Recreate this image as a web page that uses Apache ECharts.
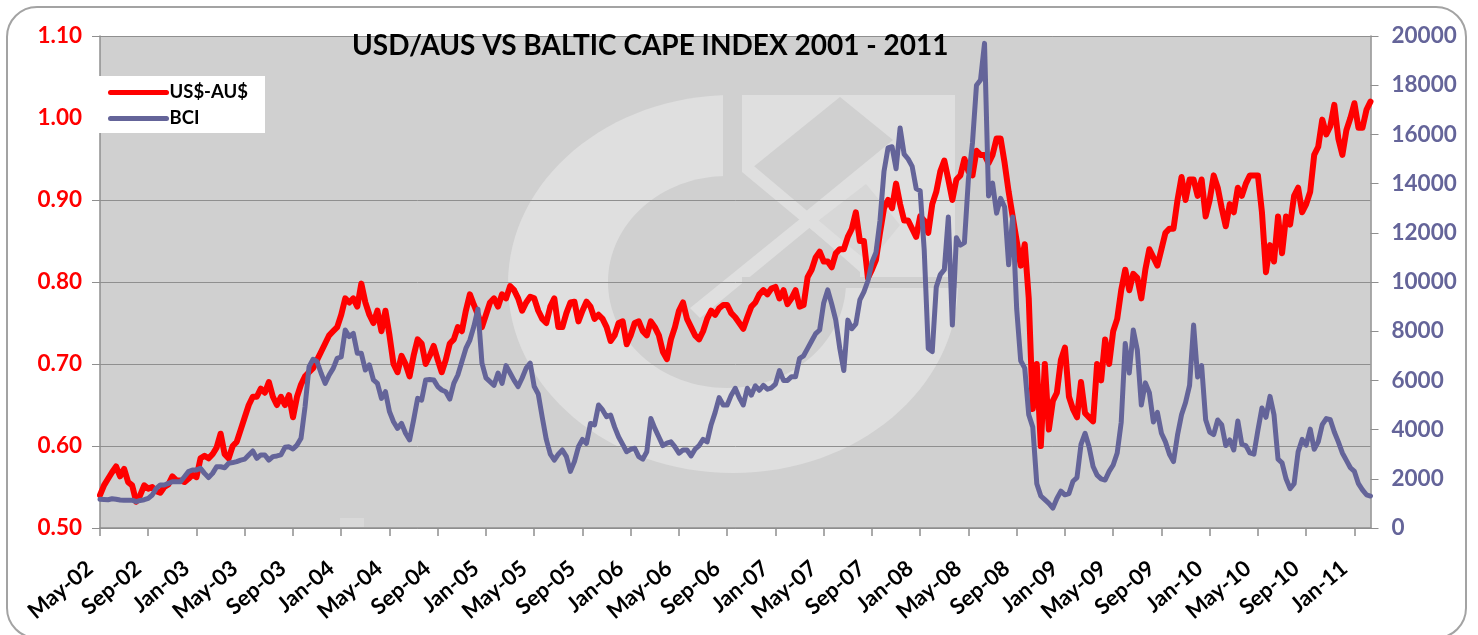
<!DOCTYPE html>
<html>
<head>
<meta charset="utf-8">
<style>html,body{margin:0;padding:0;background:#fff}#c{width:1478px;height:635px}</style>
<script src="https://cdn.jsdelivr.net/npm/echarts@6/dist/echarts.min.js"></script>
</head>
<body>
<div id="c"></div>
<script>
const chartTitle = 'USD/AUS VS BALTIC CAPE INDEX 2001 - 2011';
const tickLabels = ['May-02','Sep-02','Jan-03','May-03','Sep-03','Jan-04','May-04','Sep-04','Jan-05','May-05','Sep-05','Jan-06','May-06','Sep-06','Jan-07','May-07','Sep-07','Jan-08','May-08','Sep-08','Jan-09','May-09','Sep-09','Jan-10','May-10','Sep-10','Jan-11'];
const pointsPerTick = 12;
const usdAud = [
.540,.552,.560,.568,.575,.563,.572,.556,.552,.532,.540,.552,
.548,.550,.545,.543,.550,.553,.563,.558,.558,.556,.560,.565,
.562,.585,.588,.585,.590,.598,.615,.590,.585,.600,.605,.620,
.635,.650,.660,.660,.670,.665,.678,.660,.650,.660,.650,.662,
.635,.660,.675,.685,.690,.695,.705,.715,.725,.735,.740,.745,
.760,.780,.775,.780,.770,.798,.775,.760,.750,.765,.740,.765,
.735,.700,.690,.710,.700,.685,.710,.730,.725,.700,.710,.722,
.705,.690,.705,.725,.730,.745,.740,.765,.785,.772,.760,.745,
.760,.775,.780,.770,.785,.780,.795,.790,.780,.765,.775,.782,
.780,.765,.755,.750,.770,.780,.745,.745,.762,.775,.776,.752,
.765,.776,.770,.755,.760,.755,.745,.728,.735,.750,.752,.724,
.735,.750,.752,.740,.735,.752,.745,.735,.715,.706,.730,.745,
.765,.775,.755,.745,.735,.730,.740,.755,.765,.760,.768,.772,
.772,.762,.757,.750,.743,.757,.770,.775,.785,.790,.785,.792,
.794,.780,.790,.773,.780,.790,.770,.772,.806,.815,.830,.837,
.825,.825,.818,.835,.840,.840,.855,.865,.885,.850,.850,.805,
.815,.827,.860,.890,.900,.890,.920,.895,.875,.875,.865,.855,
.880,.875,.860,.895,.910,.935,.948,.925,.900,.925,.930,.950,
.935,.930,.960,.955,.955,.945,.955,.975,.975,.945,.910,.880,
.850,.820,.846,.780,.645,.700,.600,.700,.620,.655,.665,.705,
.720,.660,.645,.635,.678,.640,.635,.630,.700,.680,.730,.700,
.740,.755,.790,.815,.790,.810,.805,.780,.815,.840,.830,.820,
.840,.860,.865,.865,.900,.928,.900,.925,.925,.905,.925,.880,
.900,.930,.915,.890,.868,.895,.885,.915,.905,.920,.930,.930,
.930,.885,.812,.845,.825,.880,.835,.880,.870,.905,.915,.885,
.895,.910,.955,.965,.998,.980,.990,1.016,.975,.955,.985,1.000,
1.018,.988,.988,1.010,1.020
];
const bci = [
1170,1160,1150,1190,1170,1140,1130,1130,1130,1070,1120,1150,
1206,1340,1610,1750,1750,1815,1880,1880,1880,2085,2290,2360,
2360,2425,2220,2050,2220,2490,2490,2450,2630,2660,2700,2760,
2800,2970,3130,2830,2970,2970,2760,2900,2930,2970,3280,3300,
3210,3370,3650,4930,6560,6860,6760,6290,5880,6220,6490,6900,
6960,8050,7780,7910,7100,7100,6420,6630,6020,5880,5270,5540,
4730,4320,4050,4250,3850,3580,4390,5270,5200,6020,6040,6020,
5750,5610,5540,5240,5880,6220,6760,7300,7640,8200,8900,6700,
6100,5950,5800,6300,5880,6600,6300,6000,5750,6100,6500,6700,
5750,5450,4500,3600,3000,2760,3000,3170,2900,2300,2700,3300,
3600,3440,4250,4190,5000,4800,4525,4590,4100,3700,3400,3100,
3200,3240,2900,2800,3100,4450,4050,3700,3350,3450,3500,3300,
3040,3170,3170,2930,3200,3350,3600,3500,4200,4700,5300,5000,
5000,5400,5680,5300,5000,5680,5400,5780,5600,5800,5640,5700,
5850,6400,6000,6000,6150,6150,6900,7000,7300,7600,7900,8050,
9150,9680,9100,8450,7300,6400,8450,8100,8300,9270,9600,10050,
10800,11200,12500,14500,15450,15500,14600,16260,15200,15000,14700,13800,
13700,11300,7300,7170,9800,10300,10500,12640,8250,11800,11500,11600,
14200,15650,18000,18210,19700,13500,14020,12800,13400,13050,10700,12640,
8900,6800,6500,4600,4100,1800,1300,1150,1000,810,1200,1500,
1350,1400,1900,2050,3400,3850,3300,2500,2150,2000,1950,2300,
2560,3050,4300,7500,6300,8050,7240,5000,5900,5500,4310,4700,
3850,3500,3000,2700,3780,4600,5100,5800,8250,6140,6600,4400,
3900,3800,4390,4190,3350,3580,3170,4350,3400,3350,3050,3000,
3980,4880,4500,5350,4600,2800,2650,2000,1600,1800,3100,3600,
3370,4020,3200,3500,4200,4450,4400,3900,3500,3050,2750,2450,
2300,1800,1550,1350,1300
];
const usdTicks = [0.5,0.6,0.7,0.8,0.9,1.1];
const categories = bci.map((_, i) => i % pointsPerTick === 0 ? tickLabels[i / pointsPerTick] : '');

const RED = '#ff0000', BLUE = '#646499', BG = '#d0d0d0', LIGHT = '#dfdfdf', GREY = '#8f8f8f';
const FONT = 'Lato, "Open Sans", sans-serif';
const chart = echarts.init(document.getElementById('c'), null, {renderer: 'canvas'});
const poly = (points, fill) => ({type: 'polygon', z: -1, silent: true, shape: {points}, style: {fill}});
chart.setOption({
  animation: false,
  backgroundColor: '#fff',
  graphic: {elements: [
    {type: 'rect', z: -5, silent: true, shape: {x: 7, y: 7, width: 1459, height: 631, r: 30}, style: {fill: '#fff', stroke: '#a3a3a3', lineWidth: 2}},
    {type: 'rect', z: -4, silent: true, shape: {x: 100, y: 36, width: 1270.5, height: 492}, style: {fill: BG}},
    {type: 'ellipse', z: -3, silent: true, shape: {cx: 733, cy: 284, rx: 225, ry: 189}, style: {fill: LIGHT}},
    {type: 'ellipse', z: -3, silent: true, shape: {cx: 727, cy: 282, rx: 119, ry: 106}, style: {fill: BG}},
    {type: 'rect', z: -2, silent: true, shape: {x: 723, y: 90, width: 240, height: 198}, style: {fill: BG}},
    {type: 'rect', z: -2, silent: true, shape: {x: 857, y: 288, width: 98, height: 30}, style: {fill: LIGHT}},
    {type: 'rect', z: -2, silent: true, shape: {x: 340, y: 518, width: 24, height: 9}, style: {fill: '#d9d9d9'}},
    poly([[742,95],[955,95],[955,277],[742,277]], LIGHT),
    poly([[840,97],[752,168],[805,212],[893,140]], BG),
    poly([[742,172],[860,270],[860,277],[742,277]], BG),
    poly([[814,224],[866,184],[900,225],[870,262]], '#d7d7d7'),
    poly([[890,146],[898,155],[700,318],[690,308]], LIGHT),
    poly([[742,168],[748,161],[868,262],[860,272]], LIGHT),
    {type: 'rect', z: -1, silent: true, shape: {x: 742, y: 277, width: 213, height: 11}, style: {fill: BG}}
  ]},
  title: {
    text: chartTitle, left: 352, top: 32, padding: 0,
    textStyle: {fontFamily: FONT, fontWeight: 'bold', fontSize: 28, color: '#000'}
  },
  legend: {
    left: 99, top: 76, orient: 'vertical', align: 'left',
    itemWidth: 56, itemHeight: 12, itemGap: 7, padding: [7, 17, 5, 9],
    backgroundColor: '#fff', borderRadius: 0,
    itemStyle: {opacity: 0},
    lineStyle: {width: 5, cap: 'round'},
    textStyle: {fontFamily: FONT, fontWeight: 'bold', fontSize: 18.5, color: '#000', padding: [2, 0, 0, -2]},
    data: ['US$-AU$', 'BCI']
  },
  grid: {left: 100, right: 107.5, top: 36, bottom: 107, containLabel: false},
  xAxis: {
    type: 'category', boundaryGap: false, data: categories,
    axisLine: {lineStyle: {color: GREY, width: 1.5}},
    axisTick: {interval: pointsPerTick - 1, length: 8, lineStyle: {color: GREY, width: 1.5}},
    axisLabel: {interval: pointsPerTick - 1, rotate: 40, margin: 29, padding: [0, 13, 0, 0], fontFamily: FONT, fontWeight: 'bold', fontSize: 22, color: '#000'},
    splitLine: {show: false}
  },
  yAxis: [
    {
      type: 'value', min: 0.5, max: 1.1, interval: 0.1,
      axisLine: {show: true, lineStyle: {color: GREY, width: 1.5}},
      axisTick: {show: true, length: 8, customValues: usdTicks, lineStyle: {color: GREY}},
      axisLabel: {margin: 18, formatter: v => v.toFixed(2), fontFamily: FONT, fontWeight: 'bold', fontSize: 22.5, color: RED},
      splitLine: {show: true, lineStyle: {color: GREY, width: 1}}
    },
    {
      type: 'value', min: 0, max: 20000, interval: 2000, position: 'right',
      axisLine: {show: true, lineStyle: {color: GREY, width: 1.5}},
      axisTick: {show: true, length: 8, lineStyle: {color: GREY}},
      axisLabel: {margin: 21, formatter: v => String(v), fontFamily: FONT, fontWeight: 'bold', fontSize: 22.5, color: BLUE},
      splitLine: {show: false}
    }
  ],
  series: [
    {name: 'US$-AU$', type: 'line', yAxisIndex: 0, data: usdAud, showSymbol: false, symbol: 'none', smooth: false,
      lineStyle: {color: RED, width: 6, cap: 'round', join: 'round'}, itemStyle: {color: RED}},
    {name: 'BCI', type: 'line', yAxisIndex: 1, data: bci, showSymbol: false, symbol: 'none', smooth: false,
      lineStyle: {color: BLUE, width: 5, cap: 'round', join: 'round'}, itemStyle: {color: BLUE}}
  ]
});
</script>
</body>
</html>
